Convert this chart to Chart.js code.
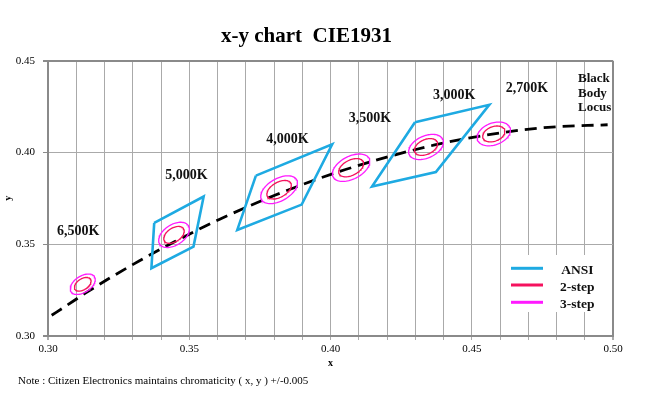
<!doctype html>
<html lang="en">
<head>
  <meta charset="UTF-8">
  <title>x-y chart CIE1931</title>
  <script src="https://cdn.jsdelivr.net/npm/chart.js"></script>
  <style>
    html, body { margin: 0; padding: 0; background: #fff; }
    #cie { display: block; }
  </style>
</head>
<body>
<canvas id="cie" width="645" height="399"></canvas>
<script>
  // black body locus
  const locusX = [0.3013, 0.3065, 0.3135, 0.3221, 0.3324, 0.3451, 0.3608, 0.3805, 0.4053, 0.4369, 0.4599, 0.4770, 0.4981];
  const locusY = [0.3113, 0.3165, 0.3236, 0.3318, 0.3410, 0.3516, 0.3636, 0.3768, 0.3907, 0.4041, 0.4106, 0.4137, 0.4151];

  // ANSI quadrangles (corners, x and y)
  const ansiX = [
    [0.3376, 0.3551, 0.3515, 0.3366],
    [0.3736, 0.4006, 0.3898, 0.3670],
    [0.4299, 0.4562, 0.4373, 0.4147]
  ];
  const ansiY = [
    [0.3616, 0.3760, 0.3487, 0.3369],
    [0.3874, 0.4044, 0.3716, 0.3578],
    [0.4165, 0.4260, 0.3893, 0.3814]
  ];

  // MacAdam ellipses: centre, 1-step semi axes, angle (deg)
  const cctNames = ['6,500K', '5,000K', '4,000K', '3,500K', '3,000K', '2,700K'];
  const ellCx = [0.3123, 0.3446, 0.3818, 0.4073, 0.4338, 0.4578];
  const ellCy = [0.3282, 0.3551, 0.3797, 0.3917, 0.4030, 0.4101];
  const ellA = [0.00205, 0.00252, 0.00288, 0.00284, 0.00256, 0.00237];
  const ellB = [0.00119, 0.00148, 0.00167, 0.00173, 0.00170, 0.00171];
  const ellTheta = [58.57, 59.37, 54.00, 52.58, 53.22, 53.70];
  const steps = [3, 2];

  // CCT captions
  const tagX = [0.3107, 0.3490, 0.3848, 0.4140, 0.4438, 0.4695];
  const tagY = [0.3568, 0.3877, 0.4072, 0.4186, 0.4309, 0.4350];
  const locusCaption = ['Black', 'Body', 'Locus'];
  const locusCaptionX = 0.4876;
  const locusCaptionY = [0.4400, 0.4319, 0.4242];

  const xTickLabels = ['0.30', '0.35', '0.40', '0.45', '0.50'];
  const yTickLabels = ['0.30', '0.35', '0.40', '0.45'];
  const legendNames = ['ANSI', '2-step', '3-step'];
  const note = 'Note : Citizen Electronics maintains chromaticity ( x, y ) +/-0.005';

  const BLUE = '#1eaae2', RED = '#f5125e', MAGENTA = '#ff1aff';
  const SERIF = "'Liberation Serif', 'Times New Roman', serif";

  function ellipsePoints(i, k) {
    const t = ellTheta[i] * Math.PI / 180, a = ellA[i] * k, b = ellB[i] * k;
    const pts = [];
    for (let s = 0; s <= 80; s++) {
      const u = s / 80 * 2 * Math.PI;
      pts.push({
        x: ellCx[i] + a * Math.cos(u) * Math.cos(t) - b * Math.sin(u) * Math.sin(t),
        y: ellCy[i] + a * Math.cos(u) * Math.sin(t) + b * Math.sin(u) * Math.cos(t)
      });
    }
    return pts;
  }

  const datasets = [];
  cctNames.forEach((name, i) => {
    steps.forEach(k => {
      datasets.push({
        label: name + ' ' + k + '-step',
        data: ellipsePoints(i, k),
        showLine: true, pointRadius: 0,
        borderColor: k === 2 ? RED : MAGENTA,
        borderWidth: 1.3, tension: 0
      });
    });
  });
  ansiX.forEach((xs, q) => {
    const pts = xs.map((x, j) => ({x, y: ansiY[q][j]}));
    pts.push(pts[0]);
    datasets.push({
      label: 'ANSI', data: pts, showLine: true, pointRadius: 0,
      borderColor: BLUE, borderWidth: 2.6, borderJoinStyle: 'miter'
    });
  });
  datasets.push({
    label: 'Black Body Locus',
    data: locusX.map((x, j) => ({x, y: locusY[j]})),
    showLine: true, pointRadius: 0, borderColor: '#000', borderWidth: 2.8,
    borderDash: [12, 7], cubicInterpolationMode: 'monotone'
  });

  const extras = {
    id: 'extras',
    afterDatasetsDraw(chart) {
      const {ctx, chartArea: ca, scales: {x, y}} = chart;
      ctx.save();
      ctx.fillStyle = '#111';
      ctx.textBaseline = 'middle';
      ctx.font = 'bold 14px ' + SERIF;
      ctx.textAlign = 'center';
      cctNames.forEach((t, i) => ctx.fillText(t, x.getPixelForValue(tagX[i]), y.getPixelForValue(tagY[i])));
      ctx.font = 'bold 13px ' + SERIF;
      ctx.textAlign = 'left';
      locusCaption.forEach((t, i) => ctx.fillText(t, x.getPixelForValue(locusCaptionX), y.getPixelForValue(locusCaptionY[i])));

      // legend box
      ctx.fillStyle = '#fff';
      ctx.fillRect(ca.right - 107, ca.bottom - 81, 104, 57);
      const cols = [BLUE, RED, MAGENTA];
      const lineY = [-67.7, -51, -33.7];
      legendNames.forEach((n, i) => {
        ctx.strokeStyle = cols[i];
        ctx.lineWidth = 3;
        ctx.beginPath();
        ctx.moveTo(ca.right - 102, ca.bottom + lineY[i]);
        ctx.lineTo(ca.right - 70, ca.bottom + lineY[i]);
        ctx.stroke();
        ctx.fillStyle = '#111';
        ctx.textAlign = 'center';
        ctx.font = 'bold 13.5px ' + SERIF;
        ctx.fillText(n, ca.right - 35.7, ca.bottom + lineY[i] + 2.5);
      });

      // footnote
      ctx.textAlign = 'left';
      ctx.font = '11px ' + SERIF;
      ctx.fillStyle = '#000';
      ctx.fillText(note, 18, 381);
      ctx.restore();
    }
  };

  const edgeColor = '#8a8a8a', gridColor = '#aaaaaa';
  const isEdge = (c, lo, hi) => Math.abs(c.tick.value - lo) < 1e-6 || Math.abs(c.tick.value - hi) < 1e-6;

  new Chart(document.getElementById('cie'), {
    type: 'scatter',
    data: {datasets},
    plugins: [extras],
    options: {
      responsive: false,
      animation: false,
      events: [],
      layout: {padding: {left: 0, right: 32, top: 0, bottom: 26}},
      plugins: {
        legend: {display: false},
        tooltip: {enabled: false},
        title: {
          display: true,
          text: 'x-y chart  CIE1931',
          color: '#000',
          font: {family: SERIF, size: 21, weight: 'bold'},
          padding: {top: 24, bottom: 11.5}
        }
      },
      scales: {
        x: {
          type: 'linear', min: 0.30, max: 0.50,
          afterFit: s => { s.height = 37; },
          ticks: {
            stepSize: 0.01, autoSkip: false, maxRotation: 0, padding: 3, color: '#000',
            font: {family: SERIF, size: 11},
            callback: v => { const l = Number(v).toFixed(2); return xTickLabels.includes(l) ? l : ''; }
          },
          grid: {
            color: c => isEdge(c, 0.30, 0.50) ? edgeColor : gridColor,
            lineWidth: c => isEdge(c, 0.30, 0.50) ? 2 : 1,
            tickColor: gridColor, tickLength: 4
          },
          border: {color: edgeColor, width: 2},
          title: {display: true, text: 'x', color: '#000', font: {family: SERIF, size: 10, weight: 'bold'}, padding: {top: 2, bottom: 4}}
        },
        y: {
          type: 'linear', min: 0.30, max: 0.45,
          afterFit: s => { s.width = 48; },
          ticks: {
            stepSize: 0.05, padding: 8, color: '#000',
            font: {family: SERIF, size: 11},
            callback: v => { const l = Number(v).toFixed(2); return yTickLabels.includes(l) ? l : ''; }
          },
          grid: {
            color: c => isEdge(c, 0.30, 0.45) ? edgeColor : gridColor,
            lineWidth: c => isEdge(c, 0.30, 0.45) ? 2 : 1,
            tickColor: edgeColor, tickLength: 5
          },
          border: {color: edgeColor, width: 2},
          title: {display: true, text: 'y', color: '#000', font: {family: SERIF, size: 10, weight: 'bold'}, padding: {top: 2, bottom: 2}}
        }
      }
    }
  });
</script>
</body>
</html>
